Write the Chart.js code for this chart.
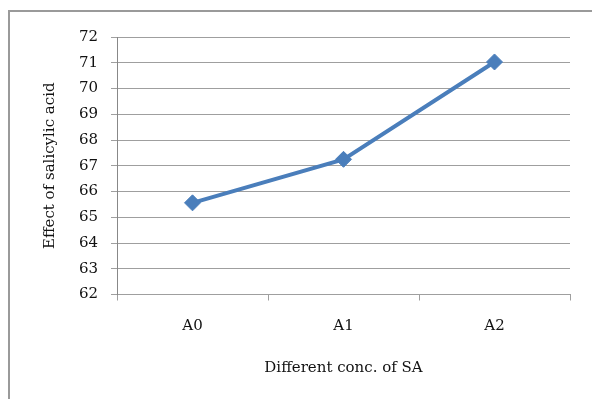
<!DOCTYPE html>
<html lang="en">
<head>
    <meta charset="UTF-8" />
    <title>Effect of salicylic acid</title>
    <script src="https://cdn.jsdelivr.net/npm/chart.js"></script>
    <style>
        html, body { margin: 0; background: #fff; overflow: hidden; }
        canvas { display: block; }
    </style>
</head>
<body>
    <canvas id="chart" width="592" height="399"></canvas>

    <script>
        // Datos
        const categorias = ['A0', 'A1', 'A2'];
        const valores = [65.56, 67.25, 71.03];
        const yMin = 62;
        const yMax = 72;
        const yPaso = 1;

        const fuente = "'DejaVu Serif', 'Liberation Serif', serif";
        const azul = '#4a7ebb';
        const gris = '#9f9f9f';

        // Marco exterior (solo bordes izquierdo y superior visibles)
        const marco = {
            id: 'marco',
            beforeDraw(chart) {
                const c = chart.ctx;
                c.save();
                c.strokeStyle = '#9a9a9a';
                c.lineWidth = 2;
                c.beginPath();
                c.moveTo(9, chart.height);
                c.lineTo(9, 11);
                c.lineTo(chart.width, 11);
                c.stroke();
                c.restore();
            }
        };

        const ctx = document.getElementById('chart').getContext('2d');
        const chart = new Chart(ctx, {
            type: 'line',
            data: {
                labels: categorias,
                datasets: [{
                    data: valores,
                    borderColor: azul,
                    backgroundColor: azul,
                    borderWidth: 4,
                    pointStyle: 'rectRot',
                    pointRadius: 8,
                    pointBorderWidth: 1,
                    fill: false,
                    tension: 0
                }]
            },
            options: {
                responsive: false,
                animation: false,
                layout: { padding: { left: 0, right: 22, top: 37, bottom: 0 } },
                plugins: {
                    legend: { display: false },
                    tooltip: { enabled: false }
                },
                scales: {
                    x: {
                        offset: true,
                        grid: {
                            offset: true,
                            drawOnChartArea: false,
                            drawTicks: true,
                            tickLength: 6,
                            color: gris
                        },
                        border: { color: gris },
                        ticks: { color: '#111', padding: 17, font: { family: fuente, size: 15 } },
                        title: {
                            display: true,
                            text: 'Different conc. of SA',
                            color: '#111',
                            padding: { top: 22, bottom: 22 },
                            font: { family: fuente, size: 15 }
                        },
                        afterFit: (s) => { s.height = 104.5; }
                    },
                    y: {
                        min: yMin,
                        max: yMax,
                        grid: { color: gris, tickLength: 6 },
                        border: { color: '#888' },
                        ticks: {
                            stepSize: yPaso,
                            color: '#111',
                            padding: 13,
                            font: { family: fuente, size: 15 }
                        },
                        title: {
                            display: true,
                            text: 'Effect of salicylic acid',
                            color: '#111',
                            padding: { top: 41, bottom: 41 },
                            font: { family: fuente, size: 15 }
                        },
                        afterFit: (s) => { s.width = 117; }
                    }
                }
            },
            plugins: [marco]
        });
    </script>
</body>
</html>
